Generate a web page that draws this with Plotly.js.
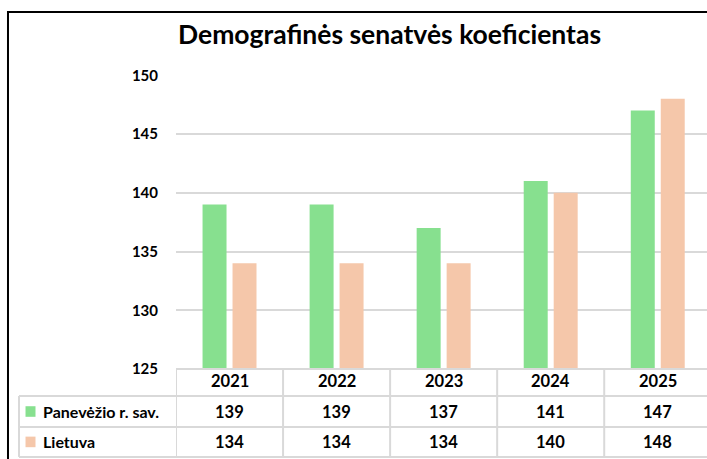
<!DOCTYPE html>
<html>
<head>
<meta charset="utf-8">
<script src="https://cdn.plot.ly/plotly-3.0.1.min.js"></script>
<style>
  body { margin: 0; padding: 0; background: #fff; }
  #chart { width: 707px; height: 459px; }
</style>
</head>
<body>
<div id="chart"></div>
<script>
var years = ['2021', '2022', '2023', '2024', '2025'];
var panevezys = [139, 139, 137, 141, 147];
var lietuva = [134, 134, 134, 140, 148];
var seriesNames = ['Panevėžio r. sav.', 'Lietuva'];
var seriesColors = ['#87E08F', '#F5C7AA'];

var FONT = 'Lato, sans-serif';
var GRID = '#d9d9d9';

var bar1 = {
  x: years, y: panevezys, type: 'bar', name: seriesNames[0],
  marker: {color: seriesColors[0]}, hoverinfo: 'none'
};
var bar2 = {
  x: years, y: lietuva, type: 'bar', name: seriesNames[1],
  marker: {color: seriesColors[1]}, hoverinfo: 'none'
};

// row positions of the data table under the plot (paper units)
var rowLines = [0, -0.0918, -0.197, -0.299];
var rowText = [-0.0425, -0.1446, -0.248];
var firstColX = -0.2957;

var shapes = [];
var annotations = [];

// outer chart frame
shapes.push({type: 'rect', xref: 'paper', yref: 'paper',
  x0: -0.3164, x1: 1.2, y0: -0.5, y1: 1.2143,
  line: {color: '#000', width: 2}, layer: 'above'});

// horizontal table lines
shapes.push({type: 'line', xref: 'paper', yref: 'paper', x0: 0, x1: 1.1,
  y0: rowLines[0], y1: rowLines[0], line: {color: GRID, width: 2}});
for (var r = 1; r < rowLines.length; r++) {
  shapes.push({type: 'line', xref: 'paper', yref: 'paper', x0: firstColX, x1: 1.1,
    y0: rowLines[r], y1: rowLines[r], line: {color: GRID, width: 2}});
}
// vertical table lines
shapes.push({type: 'line', xref: 'paper', yref: 'paper', x0: firstColX, x1: firstColX,
  y0: rowLines[1], y1: rowLines[3], line: {color: GRID, width: 2}});
for (var c = 0; c < years.length; c++) {
  shapes.push({type: 'line', xref: 'x', yref: 'paper', x0: c - 0.5, x1: c - 0.5,
    y0: rowLines[0], y1: rowLines[3], line: {color: GRID, width: 2}});
}

// header row: years (x given as category index)
years.forEach(function (yr, i) {
  annotations.push({xref: 'x', yref: 'paper', x: i, y: rowText[0], text: yr,
    xanchor: 'center', yanchor: 'middle', showarrow: false,
    font: {family: FONT, size: 16.5, color: '#000', weight: 'bold'}});
});

// data rows
var rows = [panevezys, lietuva];
rows.forEach(function (vals, r) {
  // legend swatch
  shapes.push({type: 'rect', xref: 'paper', yref: 'paper',
    x0: -0.2834, x1: -0.2646, y0: rowText[r + 1] - 0.018, y1: rowText[r + 1] + 0.018,
    fillcolor: seriesColors[r], line: {width: 0}});
  annotations.push({xref: 'paper', yref: 'paper', x: -0.2542, y: rowText[r + 1],
    xanchor: 'left', yanchor: 'middle', text: seriesNames[r], showarrow: false,
    font: {family: FONT, size: 16, color: '#000', weight: 'bold'}});
  vals.forEach(function (v, i) {
    annotations.push({xref: 'x', yref: 'paper', x: i, y: rowText[r + 1],
      xanchor: 'center', yanchor: 'middle', text: String(v), showarrow: false,
      font: {family: FONT, size: 16.5, color: '#000', weight: 'bold'}});
  });
});

var layout = {
  width: 707, height: 459,
  margin: {l: 176, r: 0, t: 75, b: 90},
  paper_bgcolor: '#fff', plot_bgcolor: '#fff',
  showlegend: false,
  barmode: 'group', bargap: 0.44, bargroupgap: 0.2,
  title: {text: 'Demografinės senatvės koeficientas', xref: 'container', x: 0.551,
    y: 0.924, yanchor: 'middle',
    font: {family: FONT, size: 26.5, color: '#000', weight: 'bold'}},
  xaxis: {type: 'category', range: [-0.5, 4.46], showticklabels: false, showgrid: false,
    zeroline: false, showline: false, fixedrange: true},
  yaxis: {range: [125, 150.03], tickvals: [125, 130, 135, 140, 145, 150],
    showgrid: true, gridcolor: GRID, gridwidth: 2,
    zeroline: false, showline: false, ticks: '', ticklabelstandoff: 17,
    tickfont: {family: FONT, size: 15, color: '#000', weight: 'bold'}, fixedrange: true},
  shapes: shapes,
  annotations: annotations
};

Plotly.newPlot('chart', [bar1, bar2], layout, {displayModeBar: false, staticPlot: true});
</script>
</body>
</html>
